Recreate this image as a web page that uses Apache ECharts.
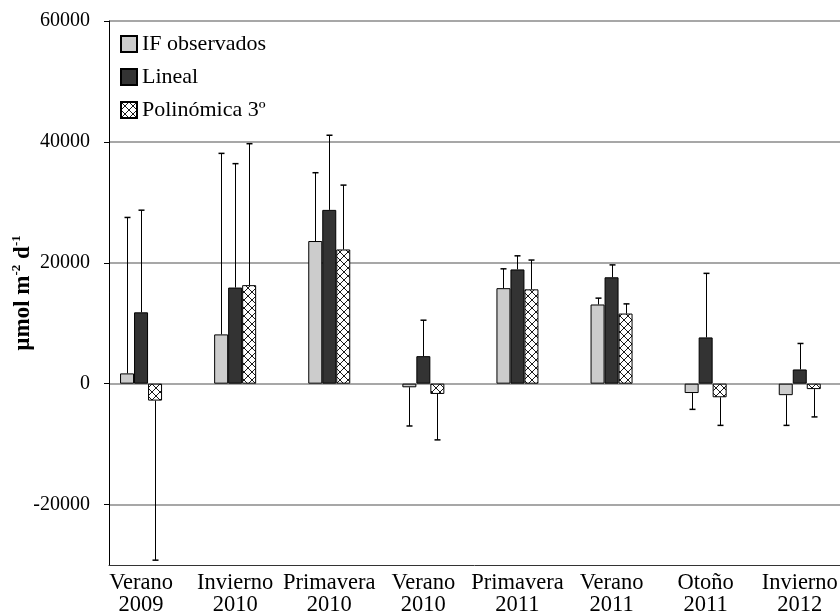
<!DOCTYPE html>
<html>
<head>
<meta charset="utf-8">
<script src="https://cdn.jsdelivr.net/npm/echarts@6/dist/echarts.min.js"></script>
<style>
  html, body { margin: 0; padding: 0; background: #fff; }
  #chart { width: 840px; height: 612px; }
</style>
</head>
<body>
<div id="chart"></div>
<script>
// Seasonal fluxes (µmol m-2 d-1): observed values and two model fits
const categories = ['Verano\n2009', 'Invierno\n2010', 'Primavera\n2010', 'Verano\n2010',
                    'Primavera\n2011', 'Verano\n2011', 'Otoño\n2011', 'Invierno\n2012'];
const seriesNames = ['IF observados', 'Lineal', 'Polinómica 3º'];

const observed   = [1700, 8150, 23600, -600, 15800, 13100, -1550, -1900];
const linear     = [11800, 15900, 28750, 4550, 18900, 17600, 7650, 2350];
const polynomial = [-2800, 16300, 22200, -1700, 15600, 11600, -2250, -900];

// One-sided error bars (away from zero)
const observedErr   = [25800, 29950, 11300, 6400, 3200, 1050, 2700, 5000];
const linearErr     = [16900, 20500, 12350, 5950, 2250, 2050, 10600, 4300];
const polynomialErr = [26400, 23400, 10650, 7600, 4850, 1600, 4650, 4600];

const yTicks = [-20000, 0, 20000, 40000, 60000];

const SERIF = '"Liberation Serif", "Times New Roman", serif';
const BAR_W = 14;

// Diagonal cross-hatch fill
function hatchPattern() {
  const c = document.createElement('canvas');
  c.width = 8; c.height = 8;
  const g = c.getContext('2d');
  g.fillStyle = '#ffffff';
  g.fillRect(0, 0, 8, 8);
  g.strokeStyle = '#1a1a1a';
  g.lineWidth = 1;
  g.beginPath();
  g.moveTo(0, 0); g.lineTo(8, 8);
  g.moveTo(8, 0); g.lineTo(0, 8);
  g.stroke();
  return { image: c, repeat: 'repeat' };
}

function errorSeries(values, errs, offset, name) {
  return {
    type: 'custom',
    name: name + ' err',
    xAxisIndex: 0,
    yAxisIndex: 0,
    z: 3,
    silent: true,
    data: values.map((v, i) => [i, v, errs[i]]),
    renderItem: function (params, api) {
      const i = api.value(0), v = api.value(1), e = api.value(2);
      const end = v >= 0 ? v + e : v - e;
      const p0 = api.coord([i, v]);
      const p1 = api.coord([i, end]);
      const x = Math.round(p0[0] + offset) + 0.5;
      return {
        type: 'group',
        children: [
          { type: 'line', shape: { x1: x, y1: p0[1], x2: x, y2: p1[1] }, style: { stroke: '#000', lineWidth: 1 } },
          { type: 'line', shape: { x1: x - 3, y1: p1[1], x2: x + 3, y2: p1[1] }, style: { stroke: '#000', lineWidth: 1.5 } }
        ]
      };
    }
  };
}

const chart = echarts.init(document.getElementById('chart'), null, { renderer: 'canvas' });

const barStyle = (color) => ({ color: color, borderColor: '#000', borderWidth: 1 });

chart.setOption({
  animation: false,
  backgroundColor: '#ffffff',
  textStyle: { fontFamily: SERIF, color: '#000' },
  legend: {
    data: seriesNames,
    orient: 'vertical',
    left: 115,
    top: 28,
    itemWidth: 16,
    itemHeight: 16,
    itemGap: 11,
    icon: 'rect',
    textStyle: { fontFamily: SERIF, fontSize: 22, color: '#000' }
  },
  grid: [
    // bars and category labels
    { left: 94, top: 21, width: 752.8, bottom: 47, outerBoundsMode: 'none', containLabel: false },
    // frame, ticks and grid lines
    { left: 109, top: 21, right: 0, bottom: 47, outerBoundsMode: 'none', containLabel: false }
  ],
  xAxis: [
    {
      gridIndex: 0,
      type: 'category',
      data: categories,
      axisLine: { show: false },
      axisTick: { show: false },
      axisLabel: { fontFamily: SERIF, fontSize: 22.5, color: '#000', lineHeight: 22, margin: 7, interval: 0 }
    },
    {
      gridIndex: 1,
      type: 'value',
      min: 0, max: 1,
      axisLine: { show: true, onZero: false, lineStyle: { color: '#333', width: 1 } },
      axisTick: { show: false },
      axisLabel: { show: false },
      splitLine: { show: false }
    }
  ],
  yAxis: [
    {
      gridIndex: 0,
      type: 'value',
      min: -30000, max: 60000,
      show: false,
      splitLine: { show: false }
    },
    {
      gridIndex: 1,
      type: 'value',
      min: -30000, max: 60000,
      name: '{a|µmol m}{s|-2}{a| d}{s|-1}',
      nameLocation: 'middle',
      nameRotate: 90,
      nameGap: 74,
      nameMoveOverlap: false,
      nameTextStyle: {
        rich: {
          a: { fontFamily: SERIF, fontSize: 23, fontWeight: 'bold', color: '#000', lineHeight: 25, verticalAlign: 'bottom' },
          s: { fontFamily: SERIF, fontSize: 13, fontWeight: 'bold', color: '#000', lineHeight: 13, verticalAlign: 'top' }
        }
      },
      axisLine: { show: true, onZero: false, lineStyle: { color: '#000', width: 1 } },
      axisTick: { show: true, customValues: yTicks, length: 5, lineStyle: { color: '#000' } },
      axisLabel: {
        customValues: yTicks, fontFamily: SERIF, fontSize: 20, color: '#000', margin: 19,
        formatter: (v) => String(v)
      },
      splitLine: { show: true, lineStyle: { color: '#8a8a8a', width: 1.5 } }
    }
  ],
  series: [
    { type: 'bar', name: seriesNames[0], data: observed, xAxisIndex: 0, yAxisIndex: 0,
      barWidth: BAR_W, barGap: '0%', itemStyle: barStyle('#cccccc') },
    { type: 'bar', name: seriesNames[1], data: linear, xAxisIndex: 0, yAxisIndex: 0,
      barWidth: BAR_W, barGap: '0%', itemStyle: barStyle('#333333') },
    { type: 'bar', name: seriesNames[2], data: polynomial, xAxisIndex: 0, yAxisIndex: 0,
      barWidth: BAR_W, barGap: '0%', itemStyle: barStyle(hatchPattern()) },
    errorSeries(observed, observedErr, -BAR_W, seriesNames[0]),
    errorSeries(linear, linearErr, 0, seriesNames[1]),
    errorSeries(polynomial, polynomialErr, BAR_W, seriesNames[2])
  ]
});
</script>
</body>
</html>
